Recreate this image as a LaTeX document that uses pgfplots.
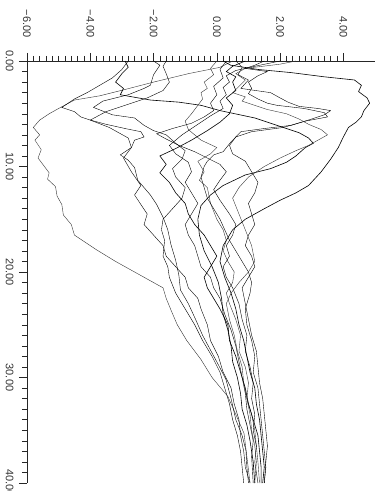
\documentclass[border=0pt]{standalone}
\usepackage{fontspec}
\setmainfont{Liberation Sans}
\usepackage{pgfplots}
\pgfplotsset{compat=1.18}
\begin{document}
\begin{tikzpicture}
\begin{axis}[name=ax, at={(27bp,-61bp)}, anchor=north west,
 scale only axis, width=348bp, height=422bp,
 xmin=-6, xmax=5, ymin=-40, ymax=0,
 axis x line*=top, axis y line*=left,
 axis line style={black!85, line width=0.6bp},
 xtick={-6,-4,-2,0,2,4}, xticklabels={−6.00,−4.00,−2.00,0.00,2.00,4.00},
 ytick={0,-10,-20,-30,-40}, yticklabels={0.00,10.00,20.00,30.00,40.00},
 minor x tick num=9, minor y tick num=9,
 tick align=outside, major tick length=8bp, minor tick length=5bp,
 tick style={black!85, line width=0.5bp},
 xticklabel style={rotate=-90, anchor=east, font=\fontsize{11}{13}\selectfont, text=black!80, xshift=0bp},
 xticklabel shift=12bp,
 yticklabel style={rotate=-90, anchor=north, font=\fontsize{11}{13}\selectfont, text=black!80},
 yticklabel shift=2bp,
 cycle list={{black!80, solid, line width=0.6bp, line join=round, mark=none}},
 clip=false,
]
% C1
\addplot table[x=v, y expr=-\thisrow{t}, row sep=\\] {t v\\
0 0.5\\ 0.6 0.1\\ 1.2 -0.9\\ 2.0 -2.0\\ 2.7 -2.9\\ 3.3 -3.7\\ 3.7 -4.5\\ 4.5 -5.0\\ 5.0 -5.3\\ 5.6 -5.6\\ 6.3 -5.8\\ 7.0 -5.6\\ 7.5 -5.75\\ 8.4 -5.55\\ 9.2 -5.65\\ 10.0 -5.45\\ 10.6 -5.3\\ 11.2 -5.35\\ 11.9 -5.1\\ 12.8 -5.05\\ 13.6 -4.9\\ 14.6 -4.85\\ 15.5 -4.6\\ 16.5 -4.5\\ 17.3 -4.1\\ 17.9 -3.8\\ 19.0 -3.2\\ 20.0 -2.6\\ 21.0 -2.0\\ 21.5 -1.7\\ 22.5 -1.6\\ 23.6 -1.45\\ 25.0 -1.25\\ 26.5 -0.95\\ 28.3 -0.5\\ 30.0 -0.15\\ 31.8 0.35\\ 33.5 0.6\\ 35.3 0.86\\ 37.5 0.95\\ 40.0 1.05\\
};
% C2
\addplot table[x=v, y expr=-\thisrow{t}, row sep=\\] {t v\\
0 -2.8\\ 0.8 -3.0\\ 1.6 -3.3\\ 2.3 -3.7\\ 3.0 -4.1\\ 3.6 -4.5\\ 4.4 -4.9\\ 4.8 -4.5\\ 5.3 -4.3\\ 5.6 -4.0\\ 6.0 -3.5\\ 6.4 -2.9\\ 6.7 -2.4\\ 7.2 -2.3\\ 7.5 -2.6\\ 8.2 -2.7\\ 8.9 -3.05\\ 9.4 -2.8\\ 10.1 -2.6\\ 11.3 -2.5\\ 12.7 -2.1\\ 13.6 -1.9\\ 14.8 -1.7\\ 16.0 -1.55\\ 17.4 -1.45\\ 18.9 -1.3\\ 20.3 -1.2\\ 21.7 -1.15\\ 23.0 -0.9\\ 24.5 -0.67\\ 26.0 -0.45\\ 27.4 -0.2\\ 28.8 0.05\\ 30.2 0.29\\ 32.0 0.45\\ 34.0 0.6\\ 35.5 0.8\\ 36.9 0.92\\ 38.5 0.95\\ 40.0 1.0\\
};
% C3
\addplot table[x=v, y expr=-\thisrow{t}, row sep=\\] {t v\\
0 -2.9\\ 0.6 -2.8\\ 1.2 -3.0\\ 2.0 -3.2\\ 2.6 -2.95\\ 3.2 -3.05\\ 3.7 -2.1\\ 3.9 -1.2\\ 4.2 -0.5\\ 4.7 0.1\\ 5.4 1.2\\ 6.2 2.0\\ 6.8 2.6\\ 7.3 2.9\\ 7.8 3.05\\ 8.2 2.8\\ 9.0 2.5\\ 9.6 2.2\\ 10.2 1.7\\ 10.8 0.9\\ 11.8 0.2\\ 12.7 -0.2\\ 13.7 -0.5\\ 15.0 -0.6\\ 16.5 -0.55\\ 18.0 -0.4\\ 19.5 -0.15\\ 21.0 0.05\\ 22.5 0.15\\ 24.0 0.2\\ 25.5 0.35\\ 27.0 0.45\\ 28.5 0.5\\ 30.0 0.65\\ 31.5 0.75\\ 33.0 0.8\\ 34.5 0.95\\ 36.0 1.05\\ 38.0 1.15\\ 40.0 1.2\\
};
% C4
\addplot table[x=v, y expr=-\thisrow{t}, row sep=\\] {t v\\
0 -2.0\\ 0.4 -1.8\\ 1.3 -2.0\\ 2.3 -2.1\\ 2.6 -2.3\\ 3.2 -2.8\\ 3.8 -3.6\\ 4.4 -3.9\\ 5.1 -3.3\\ 5.4 -2.6\\ 6.1 -2.3\\ 6.6 -2.0\\ 7.0 -1.6\\ 7.8 -1.3\\ 8.5 -1.0\\ 9.3 -1.1\\ 10.2 -1.4\\ 11.0 -1.3\\ 12.0 -1.0\\ 13.0 -1.1\\ 14.0 -1.4\\ 15.0 -1.7\\ 16.0 -1.75\\ 17.0 -1.65\\ 18.5 -1.7\\ 19.5 -1.55\\ 20.5 -1.5\\ 22.0 -1.3\\ 23.5 -1.0\\ 25.0 -0.7\\ 26.5 -0.45\\ 28.0 -0.15\\ 29.5 0.1\\ 31.0 0.25\\ 32.5 0.4\\ 34.0 0.5\\ 35.5 0.65\\ 37.0 0.75\\ 38.5 0.8\\ 40.0 0.85\\
};
% C5
\addplot table[x=v, y expr=-\thisrow{t}, row sep=\\] {t v\\
0 -1.6\\ 0.5 -1.7\\ 1.2 -1.6\\ 2.0 -1.5\\ 2.8 -1.7\\ 3.5 -2.2\\ 4.2 -2.9\\ 4.8 -3.5\\ 5.6 -4.0\\ 6.3 -3.4\\ 7.3 -2.8\\ 8.2 -2.7\\ 9.2 -2.95\\ 10.5 -2.7\\ 11.8 -2.4\\ 12.7 -2.6\\ 13.6 -2.4\\ 14.5 -2.2\\ 15.5 -2.3\\ 16.5 -2.0\\ 17.5 -1.7\\ 18.5 -1.6\\ 19.5 -1.3\\ 20.5 -1.0\\ 21.5 -0.9\\ 22.5 -0.6\\ 23.5 -0.5\\ 25.0 -0.3\\ 26.5 -0.2\\ 28.0 0.05\\ 29.5 0.2\\ 31.0 0.45\\ 32.5 0.55\\ 34.0 0.7\\ 35.5 0.75\\ 37.0 0.85\\ 38.5 0.9\\ 40.0 1.05\\
};
% C6
\addplot table[x=v, y expr=-\thisrow{t}, row sep=\\] {t v\\
0 0.0\\ 0.7 -0.2\\ 1.3 -0.1\\ 2.0 -0.4\\ 2.6 -0.3\\ 3.0 -0.5\\ 3.6 -0.45\\ 4.2 -0.6\\ 5.0 -0.8\\ 5.7 -1.0\\ 6.5 -0.9\\ 7.5 -0.5\\ 8.2 0.0\\ 8.8 -0.2\\ 9.5 -0.6\\ 10.5 -0.4\\ 11.3 -0.55\\ 12.0 -0.3\\ 13.5 -0.2\\ 15.0 0.0\\ 16.0 0.2\\ 17.0 0.3\\ 18.0 0.2\\ 19.0 0.35\\ 20.0 0.55\\ 21.0 0.5\\ 22.0 0.3\\ 23.0 0.4\\ 24.5 0.6\\ 26.0 0.75\\ 27.5 0.7\\ 29.0 0.9\\ 30.5 1.0\\ 32.0 0.95\\ 33.5 1.1\\ 35.0 1.2\\ 36.5 1.25\\ 38.0 1.3\\ 40.0 1.35\\
};
% C7
\addplot table[x=v, y expr=-\thisrow{t}, row sep=\\] {t v\\
0 0.3\\ 0.8 0.1\\ 1.6 0.2\\ 2.4 -0.1\\ 3.2 0.0\\ 4.0 -0.2\\ 4.7 -0.1\\ 5.3 -0.4\\ 5.9 -0.8\\ 6.4 -1.4\\ 6.9 -1.9\\ 7.4 -1.6\\ 8.0 -1.2\\ 8.6 -0.7\\ 9.2 -0.3\\ 9.8 0.1\\ 10.5 0.3\\ 11.3 0.1\\ 12.2 -0.1\\ 13.2 0.1\\ 14.5 0.4\\ 15.5 0.6\\ 16.5 0.5\\ 17.5 0.3\\ 18.5 0.4\\ 19.5 0.2\\ 20.5 0.3\\ 21.5 0.5\\ 23.0 0.7\\ 24.5 0.8\\ 26.0 0.95\\ 27.5 0.9\\ 29.0 1.05\\ 30.5 1.15\\ 32.0 1.1\\ 33.5 1.2\\ 35.0 1.15\\ 36.5 1.25\\ 38.0 1.2\\ 40.0 1.3\\
};
% C8
\addplot table[x=v, y expr=-\thisrow{t}, row sep=\\] {t v\\
0 0.2\\ 0.4 0.44\\ 0.8 1.3\\ 1.1 2.35\\ 1.5 3.4\\ 1.8 4.35\\ 2.3 4.57\\ 2.9 4.48\\ 3.5 4.75\\ 4.0 4.83\\ 4.7 4.65\\ 5.3 4.57\\ 5.8 4.4\\ 6.3 4.16\\ 7.2 4.0\\ 8.2 3.84\\ 9.3 3.6\\ 10.5 3.3\\ 11.8 2.9\\ 12.5 2.5\\ 13.2 2.0\\ 14.0 1.5\\ 15.0 0.9\\ 16.0 0.5\\ 17.5 0.2\\ 19.0 0.1\\ 20.5 0.25\\ 22.0 0.45\\ 23.5 0.6\\ 25.0 0.7\\ 26.5 0.85\\ 28.0 0.95\\ 29.5 1.05\\ 31.0 1.2\\ 32.5 1.25\\ 34.0 1.35\\ 35.5 1.4\\ 37.0 1.45\\ 38.5 1.5\\ 40.0 1.45\\
};
% C9
\addplot table[x=v, y expr=-\thisrow{t}, row sep=\\] {t v\\
0 0.6\\ 0.6 0.8\\ 1.3 0.67\\ 1.8 1.0\\ 2.6 0.76\\ 2.7 1.0\\ 3.0 1.7\\ 3.5 2.0\\ 3.9 2.25\\ 4.3 2.6\\ 4.5 3.2\\ 4.7 3.6\\ 5.1 3.4\\ 5.5 3.0\\ 6.1 2.35\\ 6.4 1.5\\ 6.7 0.76\\ 7.7 0.44\\ 8.6 0.2\\ 8.9 -0.1\\ 9.5 -0.3\\ 10.0 -0.4\\ 11.0 -0.5\\ 12.0 -0.4\\ 13.0 -0.3\\ 14.0 -0.1\\ 15.0 0.1\\ 16.0 0.25\\ 17.0 0.4\\ 18.0 0.6\\ 19.0 0.8\\ 20.0 1.0\\ 21.0 1.1\\ 22.0 1.05\\ 23.5 0.9\\ 25.0 0.95\\ 26.5 1.1\\ 28.0 1.2\\ 29.5 1.15\\ 31.0 1.3\\ 32.5 1.35\\ 34.0 1.4\\ 35.5 1.45\\ 37.0 1.5\\ 38.5 1.55\\ 40.0 1.5\\
};
% C10
\addplot table[x=v, y expr=-\thisrow{t}, row sep=\\] {t v\\
0 1.5\\ 0.4 1.2\\ 0.7 0.9\\ 1.0 1.6\\ 1.4 1.3\\ 2.0 1.0\\ 2.6 1.1\\ 3.1 1.0\\ 3.6 1.3\\ 4.0 1.6\\ 4.2 1.9\\ 4.5 2.76\\ 4.9 3.4\\ 5.3 3.5\\ 5.7 2.8\\ 6.3 2.1\\ 6.7 1.1\\ 7.2 0.6\\ 8.0 0.4\\ 8.8 0.5\\ 9.5 0.9\\ 10.5 1.1\\ 11.5 1.3\\ 12.5 1.2\\ 13.5 1.0\\ 14.5 1.1\\ 15.5 1.2\\ 16.5 1.0\\ 17.5 0.9\\ 18.5 1.1\\ 19.5 1.2\\ 20.5 1.0\\ 21.5 0.8\\ 23.0 0.9\\ 24.5 1.0\\ 26.0 1.1\\ 27.5 1.25\\ 29.0 1.3\\ 30.5 1.35\\ 32.0 1.45\\ 33.5 1.5\\ 35.0 1.55\\ 36.5 1.6\\ 38.0 1.55\\ 40.0 1.5\\
};
% C11
\addplot table[x=v, y expr=-\thisrow{t}, row sep=\\] {t v\\
0 2.5\\ 0.3 2.0\\ 0.7 0.9\\ 1.2 0.6\\ 1.8 0.9\\ 2.4 0.7\\ 3.0 0.5\\ 3.4 0.9\\ 3.8 0.8\\ 4.2 1.2\\ 4.6 1.6\\ 5.0 2.2\\ 5.5 2.6\\ 6.0 2.9\\ 6.5 3.3\\ 7.0 3.5\\ 7.5 3.2\\ 8.0 2.9\\ 8.5 2.5\\ 9.2 2.0\\ 10.0 1.5\\ 11.0 1.0\\ 12.0 0.7\\ 13.0 0.5\\ 14.5 0.7\\ 16.0 0.9\\ 17.5 1.1\\ 19.0 1.2\\ 20.0 1.0\\ 21.0 0.7\\ 22.0 0.45\\ 23.0 0.3\\ 24.5 0.4\\ 26.0 0.55\\ 27.5 0.65\\ 29.0 0.8\\ 30.5 0.85\\ 32.0 0.95\\ 33.5 1.05\\ 35.0 1.1\\ 36.5 1.2\\ 38.0 1.25\\ 40.0 1.2\\
};
% C12
\addplot table[x=v, y expr=-\thisrow{t}, row sep=\\] {t v\\
0 2.0\\ 0.5 1.2\\ 0.9 0.6\\ 1.4 0.3\\ 2.0 0.4\\ 2.5 0.2\\ 3.2 0.3\\ 3.8 0.1\\ 4.5 0.2\\ 5.2 -0.2\\ 6.0 -0.6\\ 7.0 -1.1\\ 8.0 -1.5\\ 8.8 -1.3\\ 9.6 -0.9\\ 10.5 -0.8\\ 11.5 -1.0\\ 12.5 -0.8\\ 13.5 -0.6\\ 14.5 -0.8\\ 15.5 -1.0\\ 16.5 -0.9\\ 17.5 -0.7\\ 18.5 -0.6\\ 19.5 -0.5\\ 20.5 -0.2\\ 21.5 -0.1\\ 22.5 0.1\\ 24.0 0.25\\ 25.5 0.45\\ 27.0 0.6\\ 28.5 0.7\\ 30.0 0.8\\ 31.5 0.9\\ 33.0 0.95\\ 34.5 1.05\\ 36.0 1.15\\ 37.5 1.1\\ 40.0 1.15\\
};
% C13
\addplot table[x=v, y expr=-\thisrow{t}, row sep=\\] {t v\\
0 0.9\\ 0.5 0.5\\ 1.0 0.3\\ 1.5 0.6\\ 2.0 0.5\\ 2.8 0.6\\ 3.5 0.3\\ 4.2 0.5\\ 5.0 0.4\\ 5.8 0.1\\ 6.6 -0.3\\ 7.5 -0.8\\ 8.3 -1.3\\ 9.0 -1.8\\ 9.8 -1.6\\ 10.6 -1.8\\ 11.5 -1.5\\ 12.5 -1.3\\ 13.5 -1.0\\ 14.5 -0.9\\ 15.5 -0.7\\ 16.5 -0.4\\ 17.5 -0.2\\ 18.5 0.0\\ 19.5 -0.2\\ 20.5 -0.4\\ 21.5 -0.3\\ 22.5 -0.1\\ 23.5 0.1\\ 25.0 0.35\\ 26.5 0.4\\ 28.0 0.6\\ 29.5 0.75\\ 31.0 0.9\\ 32.5 1.0\\ 34.0 1.15\\ 35.5 1.3\\ 37.0 1.35\\ 38.5 1.4\\ 40.0 1.4\\
};
\end{axis}
\pgfresetboundingbox
\path[use as bounding box] (0,0) rectangle (375bp,-491bp);
\end{tikzpicture}
\end{document}
